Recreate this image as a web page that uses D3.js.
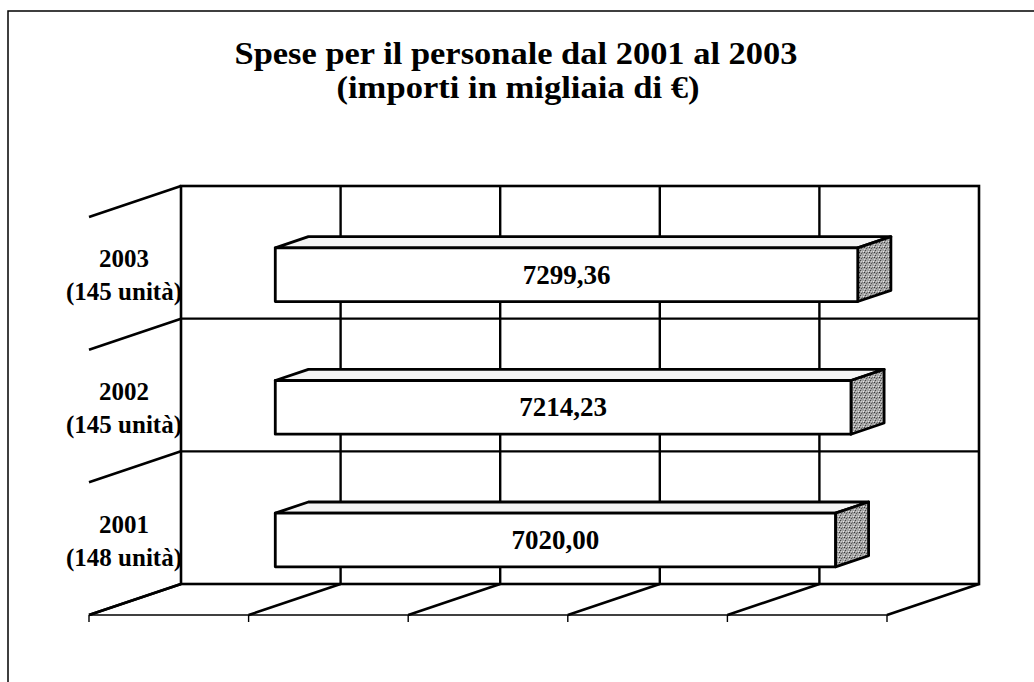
<!DOCTYPE html>
<html>
<head>
<meta charset="utf-8">
<script src="https://cdn.jsdelivr.net/npm/d3@7"></script>
<style>
  body { margin: 0; background: #fff; }
  text { font-family: "Liberation Serif", "Times New Roman", serif; font-weight: bold; fill: #000; }
</style>
</head>
<body>
<div id="chart"></div>
<script>
var title1 = "Spese per il personale dal 2001 al 2003";
var title2 = "(importi in migliaia di \u20AC)";
var years = ["2003", "2002", "2001"];
var units = ["(145 unità)", "(145 unità)", "(148 unità)"];
var values = [7299.36, 7214.23, 7020.00];
var valueLabels = ["7299,36", "7214,23", "7020,00"];
var ticks = [-2000, 0, 2000, 4000, 6000, 8000];

var svg_width = 1034;
var svg_height = 682;

// depth of the 3D box: a point moved to the front goes left and down
var depthX = -92, depthY = 31;
var zFront = 0.71, zBack = 0.35;

var svg = d3.select("#chart")
    .append("svg")
    .attr("width", svg_width)
    .attr("height", svg_height)
    .style("background-color", "#fff");

// stipple for the bar ends
var defs = svg.append("defs");
var pat = defs.append("pattern")
    .attr("id", "stip")
    .attr("width", 5).attr("height", 5)
    .attr("patternUnits", "userSpaceOnUse");
pat.append("rect").attr("width", 5).attr("height", 5).attr("fill", "#a4a4a4");
[[0,0,"#444"],[3,1,"#e6e6e6"],[1,3,"#555"],[4,4,"#d8d8d8"],[2,2,"#777"],[4,2,"#333"],[1,1,"#ccc"]].forEach(function (d) {
  pat.append("rect").attr("x", d[0]).attr("y", d[1]).attr("width", 1).attr("height", 1).attr("fill", d[2]);
});

// frame (only top and left edges are in view)
svg.append("rect")
    .attr("x", 8).attr("y", 11)
    .attr("width", 1100).attr("height", 800)
    .attr("fill", "none").attr("stroke", "#000").attr("stroke-width", 1.5);

svg.append("text")
    .attr("x", 516).attr("y", 64)
    .attr("text-anchor", "middle")
    .attr("font-size", 32)
    .attr("textLength", 563).attr("lengthAdjust", "spacingAndGlyphs")
    .text(title1);
svg.append("text")
    .attr("x", 518).attr("y", 98)
    .attr("text-anchor", "middle")
    .attr("font-size", 32)
    .attr("textLength", 363).attr("lengthAdjust", "spacingAndGlyphs")
    .text(title2);

var x = d3.scaleLinear().domain([-2000, 8000]).range([181, 979]);
var y = d3.scaleBand().domain(years).range([186, 584]).padding(0);
var bw = y.bandwidth();

function proj(v, yy, z) {
  return [x(v) + depthX * z, yy + depthY * z];
}

var g = svg.append("g");
var line = d3.line();

// back wall
g.append("rect")
    .attr("x", x(-2000)).attr("y", 186)
    .attr("width", x(8000) - x(-2000)).attr("height", 584 - 186)
    .attr("fill", "none").attr("stroke", "#000").attr("stroke-width", 2.6);

// vertical gridlines
g.selectAll(".vgrid").data(ticks.slice(1, -1)).enter().append("line")
    .attr("x1", function (d) { return x(d); }).attr("x2", function (d) { return x(d); })
    .attr("y1", 186).attr("y2", 584)
    .attr("stroke", "#000").attr("stroke-width", 2.4);

// category boundaries on the back wall and the left wall
var bounds = years.map(function (d) { return y(d); }).concat([584]);
g.selectAll(".hgrid").data(bounds.slice(1, -1)).enter().append("line")
    .attr("x1", x(-2000)).attr("x2", x(8000))
    .attr("y1", function (d) { return d; }).attr("y2", function (d) { return d; })
    .attr("stroke", "#000").attr("stroke-width", 2.4);
g.selectAll(".lwall").data(bounds).enter().append("path")
    .attr("d", function (d) { return line([proj(-2000, d, 0), proj(-2000, d, 1)]); })
    .attr("stroke", "#000").attr("stroke-width", 2.6).attr("fill", "none");

// floor
g.selectAll(".floor").data(ticks).enter().append("path")
    .attr("d", function (d) { return line([proj(d, 584, 0), proj(d, 584, 1)]); })
    .attr("stroke", "#000").attr("stroke-width", 2.6).attr("fill", "none");
g.append("path")
    .attr("d", line([proj(-2000, 584, 1), proj(8000, 584, 1)]))
    .attr("stroke", "#000").attr("stroke-width", 1.6).attr("fill", "none");
g.selectAll(".tick").data(ticks).enter().append("path")
    .attr("d", function (d) {
      var p = proj(d, 584, 1);
      return line([p, [p[0], p[1] + 7]]);
    })
    .attr("stroke", "#000").attr("stroke-width", 1.4).attr("fill", "none");

// bars
var bars = g.selectAll(".bar").data(years).enter().append("g");
bars.each(function (d, i) {
  var b = d3.select(this);
  var yt = y(d) + bw * 0.3, yb = yt + bw * 0.405;
  var v = values[i];
  var top = [proj(0, yt, zFront), proj(v, yt, zFront), proj(v, yt, zBack), proj(0, yt, zBack)];
  var side = [proj(v, yt, zFront), proj(v, yt, zBack), proj(v, yb, zBack), proj(v, yb, zFront)];
  var front = [proj(0, yt, zFront), proj(v, yt, zFront), proj(v, yb, zFront), proj(0, yb, zFront)];
  b.append("path").attr("d", line(top) + "Z")
      .attr("fill", "#f4f4f4").attr("stroke", "#000").attr("stroke-width", 2.8).attr("stroke-linejoin", "round");
  b.append("path").attr("d", line(side) + "Z")
      .attr("fill", "url(#stip)").attr("stroke", "#000").attr("stroke-width", 2.8).attr("stroke-linejoin", "round");
  b.append("path").attr("d", line(front) + "Z")
      .attr("fill", "#fff").attr("stroke", "#000").attr("stroke-width", 2.8).attr("stroke-linejoin", "round");
  var c = proj(v / 2, (yt + yb) / 2, zFront);
  b.append("text")
      .attr("x", c[0]).attr("y", c[1] + 9)
      .attr("text-anchor", "middle")
      .attr("font-size", 27)
      .text(valueLabels[i]);
});

// category labels at the front-left edge
var labels = svg.append("g");
years.forEach(function (d, i) {
  var cy = y(d) + bw / 2 + depthY;
  labels.append("text")
      .attr("x", 124).attr("y", cy - 16)
      .attr("text-anchor", "middle")
      .attr("font-size", 25)
      .text(d);
  labels.append("text")
      .attr("x", 124).attr("y", cy + 17)
      .attr("text-anchor", "middle")
      .attr("font-size", 25)
      .text(units[i]);
});
</script>
</body>
</html>
